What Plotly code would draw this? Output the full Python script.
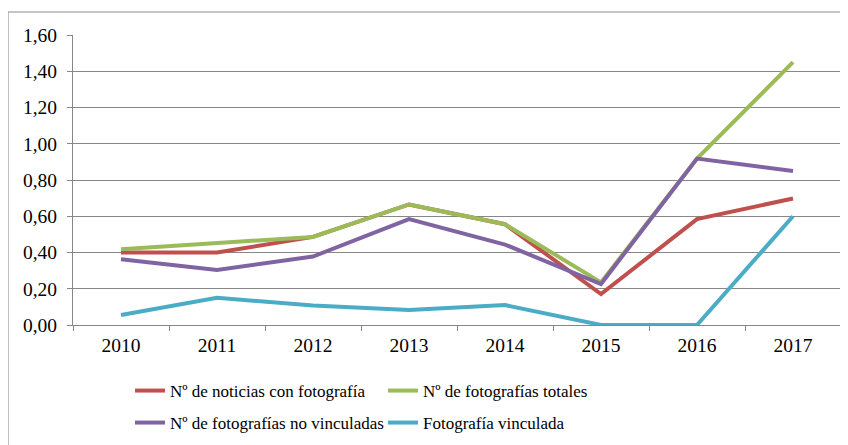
import plotly.graph_objects as go

YEARS = ["2010", "2011", "2012", "2013", "2014", "2015", "2016", "2017"]

NOTICIAS_CON_FOTO = [0.40, 0.40, 0.486, 0.665, 0.556, 0.171, 0.584, 0.698]
FOTOS_TOTALES = [0.418, 0.45, 0.486, 0.665, 0.556, 0.235, 0.918, 1.45]
FOTOS_NO_VINCULADAS = [0.363, 0.303, 0.378, 0.584, 0.444, 0.226, 0.918, 0.85]
FOTO_VINCULADA = [0.055, 0.15, 0.108, 0.083, 0.11, 0.0, 0.0, 0.60]

Y_TICKS = [0.0, 0.2, 0.4, 0.6, 0.8, 1.0, 1.2, 1.4, 1.6]
Y_TICK_LABELS = ["0,00", "0,20", "0,40", "0,60", "0,80", "1,00", "1,20", "1,40", "1,60"]

# (name, values, colour, legend row)
SERIES = (
    ("Nº de noticias con fotografía", NOTICIAS_CON_FOTO, "#C0504D", "legend"),
    ("Nº de fotografías totales", FOTOS_TOTALES, "#9BBB59", "legend"),
    ("Nº de fotografías no vinculadas", FOTOS_NO_VINCULADAS, "#8064A2", "legend2"),
    ("Fotografía vinculada", FOTO_VINCULADA, "#4BACC6", "legend2"),
)

FONT = "Liberation Serif"
GRID = "#878787"
TICK_FONT = dict(family=FONT, size=19.5, color="black")
LEGEND_FONT = dict(family=FONT, size=17, color="black")


def _legend_row(y: float) -> dict:
    return dict(
        orientation="h",
        x=0.0742,
        xanchor="left",
        yref="container",
        y=y,
        yanchor="middle",
        entrywidth=208,
        font=LEGEND_FONT,
        bgcolor="rgba(0,0,0,0)",
    )


fig = go.Figure()
for name, values, color, legend in SERIES:
    fig.add_trace(
        go.Scatter(
            x=YEARS,
            y=values,
            mode="lines",
            name=name,
            legend=legend,
            line=dict(color=color, width=4),
        )
    )

# the page body adds an 8px offset, so margins are shifted by that amount
fig.update_layout(
    template="none",
    width=848,
    height=445,
    margin=dict(l=65, r=15, t=27, b=128, autoexpand=False),
    paper_bgcolor="white",
    plot_bgcolor="white",
    font=TICK_FONT,
    showlegend=True,
    legend=_legend_row(0.1393),
    legend2=_legend_row(0.0674),
    xaxis=dict(
        type="category",
        tickson="boundaries",
        ticks="outside",
        ticklen=5,
        tickcolor=GRID,
        tickfont=TICK_FONT,
        ticklabelstandoff=3,
        showgrid=False,
        showline=True,
        linecolor=GRID,
        linewidth=1,
        range=[-0.5, 7.5],
        zeroline=False,
        automargin=False,
    ),
    yaxis=dict(
        range=[0, 1.6],
        tickvals=Y_TICKS,
        ticktext=Y_TICK_LABELS,
        ticks="outside",
        ticklen=5,
        tickcolor=GRID,
        tickfont=TICK_FONT,
        ticklabelstandoff=6,
        showgrid=True,
        gridcolor=GRID,
        gridwidth=1,
        showline=True,
        linecolor=GRID,
        linewidth=1,
        zeroline=False,
        automargin=False,
    ),
    shapes=[
        dict(
            type="rect",
            xref="paper",
            yref="paper",
            x0=-0.0846,
            x1=1.03,
            y0=-0.45,
            y1=1.0793,
            line=dict(color="#8a8a8a", width=1),
            fillcolor="rgba(0,0,0,0)",
            layer="below",
        )
    ],
)

fig.write_html("out.html")
